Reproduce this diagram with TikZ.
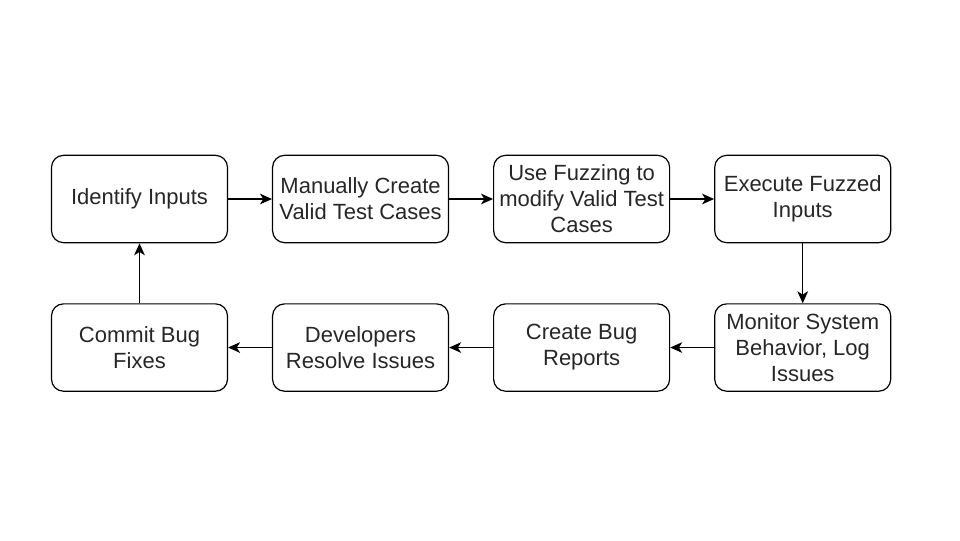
\documentclass[tikz,border=0pt]{standalone}
\usepackage{fontspec}
\setmainfont{Liberation Sans}
\usepackage{tikz}
\usetikzlibrary{positioning,arrows.meta}

\begin{document}
\begin{tikzpicture}[x=0.75pt,y=-0.75pt,
    stepbox/.style={draw,rounded corners=9pt,line width=0.9pt,
      minimum width=132pt,minimum height=65.5pt,inner sep=2pt,
      align=center,font=\fontsize{16.5}{19.5}\selectfont,text=black!85},
    flow/.style={-{Stealth[length=9pt,width=8pt,inset=2.5pt]},line width=0.9pt},
    node distance=45pt and 32.9pt]
    \useasboundingbox (0,0) rectangle (960,540);
    \node[stepbox] (inputs) at (139.5,199) {Identify Inputs};
    \node[stepbox,right=of inputs] (manual) {Manually Create\\Valid Test Cases};
    \node[stepbox,right=of manual] (fuzz) {Use Fuzzing to\\modify Valid Test\\Cases};
    \node[stepbox,right=of fuzz] (exec) {Execute Fuzzed\\Inputs};
    \node[stepbox,below=of exec] (monitor) {Monitor System\\Behavior, Log\\Issues};
    \node[stepbox,left=of monitor] (report) {Create Bug\\Reports};
    \node[stepbox,left=of report] (resolve) {Developers\\Resolve Issues};
    \node[stepbox,left=of resolve] (commit) {Commit Bug\\Fixes};
    \draw[flow] (inputs) -- (manual);
    \draw[flow] (manual) -- (fuzz);
    \draw[flow] (fuzz) -- (exec);
    \draw[flow] (exec) -- (monitor);
    \draw[flow] (monitor) -- (report);
    \draw[flow] (report) -- (resolve);
    \draw[flow] (resolve) -- (commit);
    \draw[flow] (commit) -- (inputs);
\end{tikzpicture}
\end{document}
